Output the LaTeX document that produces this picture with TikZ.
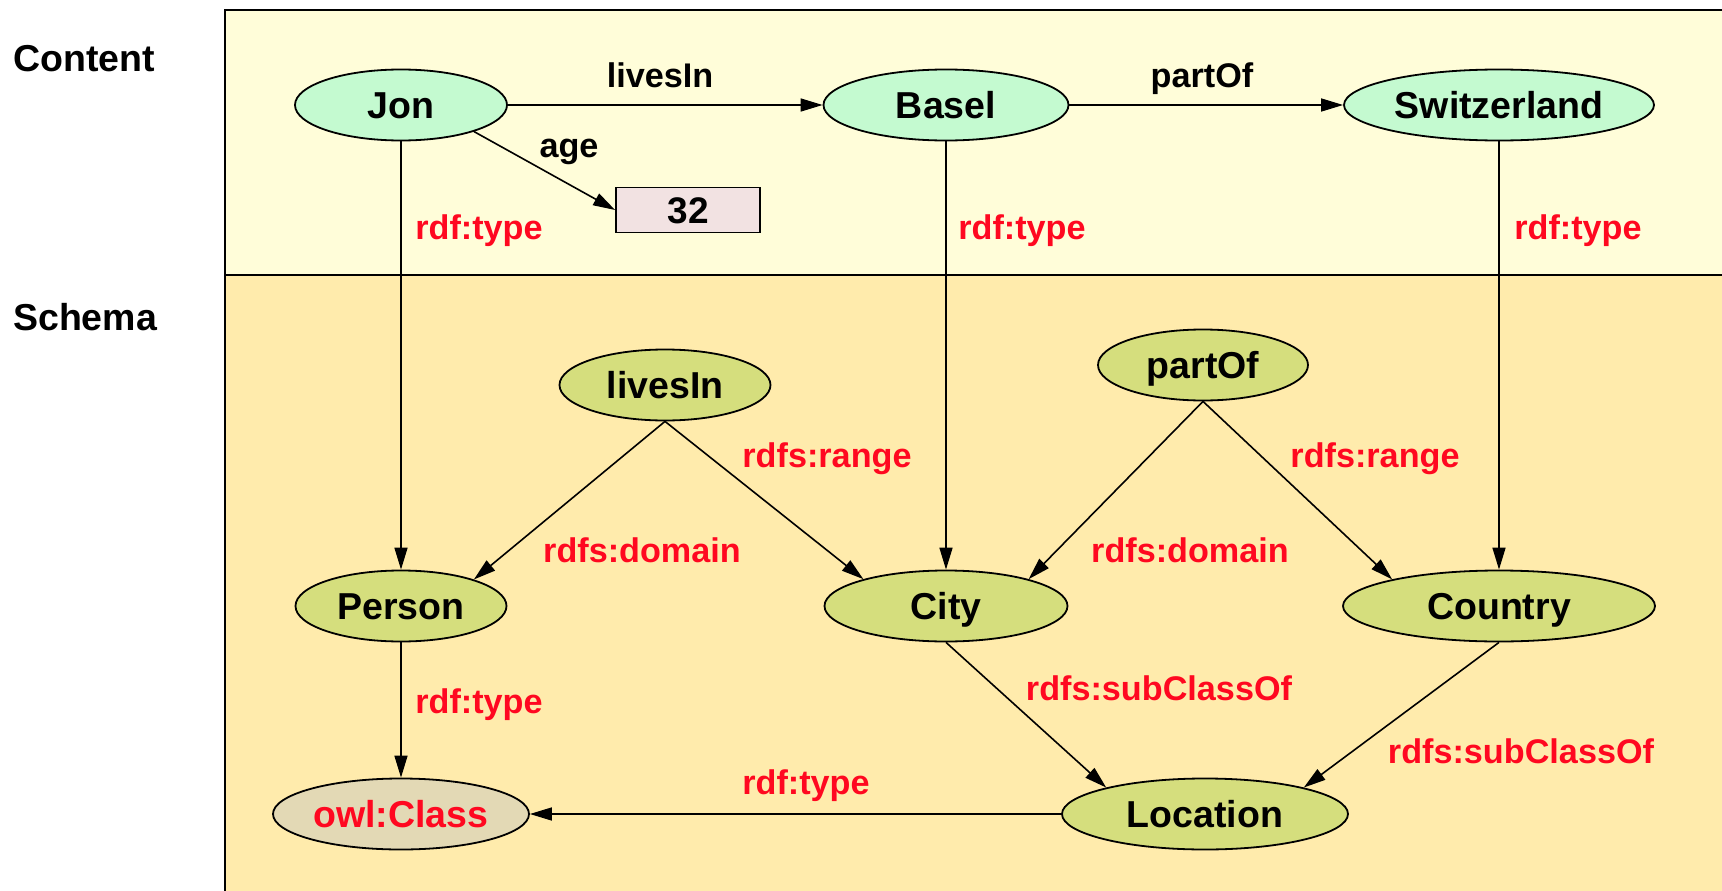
\documentclass[tikz,border=0pt]{standalone}
\usepackage{fontspec}
\setmainfont{Liberation Sans}
\usetikzlibrary{arrows.meta,shapes.geometric}

\definecolor{contentbg}{RGB}{255,253,217}
\definecolor{schemabg}{RGB}{255,235,172}
\definecolor{instfill}{RGB}{196,250,208}
\definecolor{classfill}{RGB}{213,222,125}
\definecolor{owlfill}{RGB}{227,217,181}
\definecolor{litfill}{RGB}{242,226,226}
\definecolor{rdfred}{RGB}{255,8,32}

\begin{document}
\begin{tikzpicture}[
  x=1pt, y=-1pt,
  inst/.style={draw, ellipse, fill=instfill, line width=1.8pt, inner sep=0pt, minimum height=71pt, text height=27pt, text depth=0pt, font=\fontsize{37.5}{40}\selectfont\bfseries},
  cls/.style={inst, fill=classfill},
  lit/.style={draw, fill=litfill, line width=1.8pt, inner sep=0pt, minimum width=144pt, minimum height=45pt, text height=27pt, text depth=0pt, font=\fontsize{37}{40}\selectfont\bfseries},
  prop/.style={anchor=base, inner sep=0pt, font=\fontsize{34.2}{36}\selectfont\bfseries},
  rdf/.style={prop, text=rdfred},
  side/.style={anchor=base west, inner sep=0pt, font=\fontsize{37.5}{40}\selectfont\bfseries},
  link/.style={-{Triangle[length=22pt, width=13pt]}, line width=1.6pt}]
\useasboundingbox (0,0) rectangle (1722,891);

% the two layers
\fill[contentbg] (225,10) rectangle (1722,275);
\fill[schemabg] (225,275) rectangle (1722,891);
\draw[line width=2pt] (1722,10) -- (225,10) -- (225,891);
\draw[line width=2pt] (225,275) -- (1722,275);
\node[side] (content) at (13,71) {Content};
\node[side] (schema) at (13,330) {Schema};

% content
\node[inst, minimum width=212pt] (jon) at (401,105) {Jon};
\node[inst, minimum width=245pt] (basel) at (946,105) {Basel};
\node[inst, minimum width=310pt] (swiss) at (1499,105) {Switzerland};
\node[lit] (age) at (688,210) {32};

% schema
\node[cls, minimum width=211pt] (livesin) at (665,385) {livesIn};
\node[cls, minimum width=210pt] (partof) at (1203,365) {partOf};
\node[cls, minimum width=211pt] (person) at (401,606) {Person};
\node[cls, minimum width=243pt] (city) at (946,606) {City};
\node[cls, minimum width=312pt] (country) at (1499,606) {Country};
\node[cls, fill=owlfill, text=rdfred, minimum width=256pt] (owlclass) at (401,814) {owl:Class};
\node[cls, minimum width=286pt] (location) at (1205,814) {Location};

\draw[link] (jon) -- (basel);
\draw[link] (basel) -- (swiss);
\draw[link] (jon.-20) -- (age.west);
\draw[link] (jon) -- (person);
\draw[link] (basel) -- (city);
\draw[link] (swiss) -- (country);
\draw[link] (livesin.south) -- (person.20);
\draw[link] (livesin.south) -- (city.162);
\draw[link] (partof.south) -- (city.18);
\draw[link] (partof.south) -- (country.166);
\draw[link] (person) -- (owlclass);
\draw[link] (city.south) -- (location.165);
\draw[link] (country.south) -- (location.15);
\draw[link] (location) -- (owlclass);

% edge labels
\node[prop] (lblivesin) at (660,88) {livesIn};
\node[prop] (lbpartof) at (1202,88) {partOf};
\node[prop] (lbage) at (569,157) {age};
\node[rdf] (lbtypejon) at (479,239) {rdf:type};
\node[rdf] (lbtypebasel) at (1022,239) {rdf:type};
\node[rdf] (lbtypeswiss) at (1578,239) {rdf:type};
\node[rdf] (lbrangeli) at (827,467) {rdfs:range};
\node[rdf] (lbdomainli) at (642,562) {rdfs:domain};
\node[rdf] (lbdomainpo) at (1190,562) {rdfs:domain};
\node[rdf] (lbrangepo) at (1375,467) {rdfs:range};
\node[rdf] (lbtypeperson) at (479,713) {rdf:type};
\node[rdf] (lbsubcity) at (1159,700) {rdfs:subClassOf};
\node[rdf] (lbsubcountry) at (1521,763) {rdfs:subClassOf};
\node[rdf] (lbtypeloc) at (806,794) {rdf:type};
\end{tikzpicture}
\end{document}
